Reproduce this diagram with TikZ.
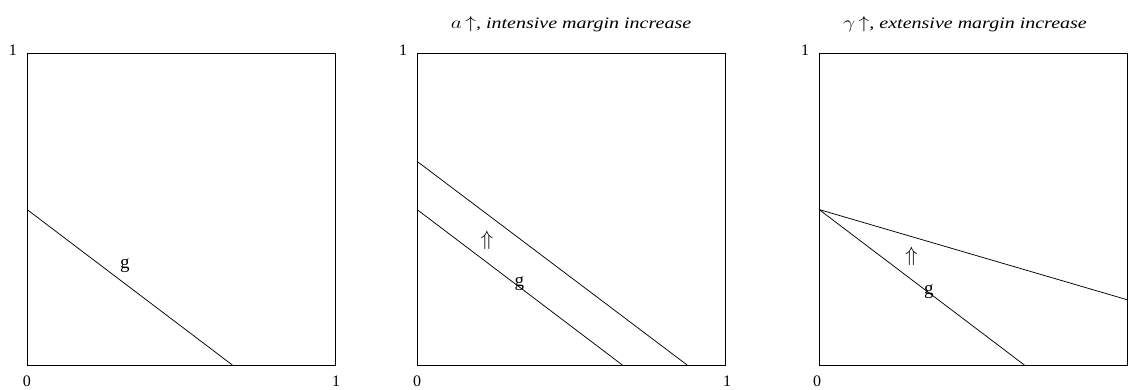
\documentclass[tikz,border=0pt]{standalone}
\usepackage{fontspec}
\usepackage{graphicx}
\setmainfont{Liberation Serif}
\newcommand{\widetitle}[1]{\scalebox{1.25}[1]{#1}}
\begin{document}
\begin{tikzpicture}[x=1pt,y=1pt,
  box/.style={draw=black,line width=1pt},
  gline/.style={draw=black,line width=0.75pt},
  tick/.style={font=\fontsize{16}{18}\selectfont, inner sep=0pt},
  glabel/.style={font=\fontsize{19}{22}\selectfont, inner sep=0pt},
  arr/.style={font=\fontsize{20}{22}\selectfont, inner sep=0pt},
  ttl/.style={font=\fontsize{16}{18}\selectfont\itshape, inner sep=0pt}]
\useasboundingbox (0,0) rectangle (1128,389);
\clip (0,0) rectangle (1128,389);

% Panel 1
\begin{scope}[shift={(27,24)}, x=308pt, y=311pt]
  \draw[box] (0,1) -- (0,0) -- (1,0) -- (1,1) -- cycle;
  \node[tick, xshift=-14pt, yshift=4pt] (p1top) at (0,1) {1};
  \node[tick, yshift=-16pt] (p1zero) at (0,0) {0};
  \node[tick, xshift=1pt, yshift=-16pt] (p1one) at (1,0) {1};
  \coordinate (p1a) at (0,0.5);
  \coordinate (p1b) at (0.6667,0);
  \draw[gline] (p1a) -- (p1b);
  \node[glabel] (p1g) at (0.318,0.32) {g};
\end{scope}

% Panel 2
\begin{scope}[shift={(417,24)}, x=308pt, y=311pt]
  \draw[box] (0,1) -- (0,0) -- (1,0) -- (1,1) -- cycle;
  \node[tick, xshift=-14pt, yshift=4pt] (p2top) at (0,1) {1};
  \node[tick, yshift=-16pt] (p2zero) at (0,0) {0};
  \node[tick, xshift=2pt, yshift=-16pt] (p2one) at (1,0) {1};
  \coordinate (p2a) at (0,0.5);
  \coordinate (p2b) at (0.6667,0);
  \coordinate (p2c) at (0,0.655);
  \coordinate (p2d) at (0.877,0);
  \draw[gline] (p2a) -- (p2b);
  \draw[gline] (p2c) -- (p2d);
  \node[arr] (p2arr) at (0.227,0.40) {$\Uparrow$};
  \node[glabel] (p2g) at (0.332,0.26) {g};
  \node[ttl, yshift=30pt] (p2title) at (0.5,1) {\widetitle{$a$\,{\fontsize{19}{20}\selectfont$\uparrow$}, intensive margin increase}};
\end{scope}

% Panel 3
\begin{scope}[shift={(819,24)}, x=308pt, y=311pt]
  \draw[box] (0,1) -- (0,0) -- (1,0) -- (1,1) -- cycle;
  \node[tick, xshift=-14pt, yshift=4pt] (p3top) at (0,1) {1};
  \node[tick, xshift=-2pt, yshift=-16pt] (p3zero) at (0,0) {0};
  \node[tick, xshift=4pt, yshift=-16pt] (p3one) at (1,0) {1};
  \coordinate (p3a) at (0,0.5);
  \coordinate (p3b) at (0.6667,0);
  \coordinate (p3c) at (1,0.21);
  \draw[gline] (p3a) -- (p3b);
  \draw[gline] (p3a) -- (p3c);
  \node[arr] (p3arr) at (0.30,0.35) {$\Uparrow$};
  \node[glabel] (p3g) at (0.357,0.235) {g};
  \node[ttl, xshift=-8pt, yshift=30pt] (p3title) at (0.5,1) {\widetitle{$\gamma$\,{\fontsize{19}{20}\selectfont$\uparrow$}, extensive margin increase}};
\end{scope}
\end{tikzpicture}
\end{document}
